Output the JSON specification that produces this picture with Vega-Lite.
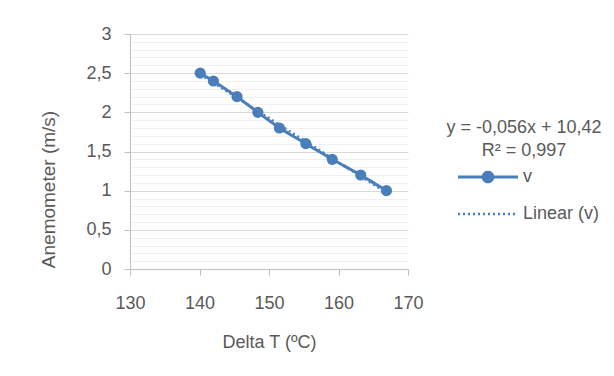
{
  "$schema": "https://vega.github.io/schema/vega-lite/v6.json",
  "width": 278,
  "height": 235,
  "autosize": {"type": "none"},
  "padding": {"left": 130, "top": 34, "right": 206, "bottom": 107},
  "background": "white",
  "config": {
    "view": {"stroke": null},
    "font": "Liberation Sans",
    "axis": {"labelColor": "#595959", "titleColor": "#595959", "labelFont": "Liberation Sans", "titleFont": "Liberation Sans", "titleFontWeight": "normal"},
    "legend": {"labelColor": "#595959", "titleColor": "#595959", "labelFont": "Liberation Sans", "titleFont": "Liberation Sans"}
  },
  "data": {
    "values": [
      {"dt": 140.1, "v": 2.5},
      {"dt": 142.0, "v": 2.4},
      {"dt": 145.4, "v": 2.2},
      {"dt": 148.4, "v": 2.0},
      {"dt": 151.5, "v": 1.8},
      {"dt": 155.3, "v": 1.6},
      {"dt": 159.1, "v": 1.4},
      {"dt": 163.2, "v": 1.2},
      {"dt": 166.9, "v": 1.0}
    ]
  },
  "resolve": {"axis": {"y": "independent"}},
  "layer": [
    {
      "mark": {"type": "line", "color": "#4A7EBB", "strokeWidth": 3, "point": {"filled": true, "size": 125, "color": "#4A7EBB", "opacity": 1}},
      "encoding": {
        "x": {
          "field": "dt", "type": "quantitative",
          "scale": {"domain": [130, 170], "nice": false, "zero": false},
          "axis": {
            "values": [130, 140, 150, 160, 170],
            "grid": false,
            "title": "Delta T (ºC)",
            "titleFontSize": 18,
            "titleY": 73,
            "titleBaseline": "middle",
            "labelFontSize": 18,
            "labelPadding": 19,
            "tickSize": 6,
            "tickColor": "#bfbfbf",
            "domainColor": "#bfbfbf",
            "labelFlush": false,
            "labelOverlap": false
          }
        },
        "y": {
          "field": "v", "type": "quantitative",
          "scale": {"domain": [0, 3], "nice": false},
          "axis": {
            "values": [0, 0.5, 1, 1.5, 2, 2.5, 3],
            "labelExpr": "replace(toString(datum.value), '.', ',')",
            "grid": true,
            "gridColor": "#d9d9d9",
            "gridWidth": 1,
            "title": "Anemometer (m/s)",
            "titleFontSize": 19,
            "titleX": -82,
            "titleY": 155,
            "titleBaseline": "middle",
            "titleAngle": -90,
            "labelFontSize": 18,
            "labelPadding": 13,
            "tickSize": 6,
            "tickColor": "#bfbfbf",
            "domainColor": "#bfbfbf",
            "labelFlush": false,
            "labelOverlap": false
          }
        },
        "strokeDash": {
          "datum": "v",
          "scale": {"domain": ["v", "Linear (v)"], "range": [[1, 0], [2, 3]]},
          "legend": {
            "orient": "none",
            "legendX": 316,
            "legendY": 85,
            "padding": 0,
            "title": ["y = -0,056x + 10,42", "R² = 0,997"],
            "titleFontSize": 18,
            "titleFontWeight": "normal",
            "titleLineHeight": 23,
            "titleAnchor": "middle",
            "titleAlign": "center",
            "titleBaseline": "top",
            "titlePadding": 9,
            "labelFontSize": 18,
            "labelOffset": 28,
            "symbolOffset": 31,
            "symbolSize": 3600,
            "clipHeight": 16,
            "rowPadding": 19,
            "symbolStrokeColor": "#4A7EBB",
            "symbolStrokeWidth": 3,
            "encode": {
              "labels": {"update": {"dx": {"value": -2}}},
              "symbols": {
                "update": {
                  "shape": {"signal": "datum.value === 'v' ? 'M-1,0H1M0.16,0A0.16,0.16,0,1,1,-0.16,0A0.16,0.16,0,1,1,0.16,0Z' : 'stroke'"},
                  "fill": {"signal": "datum.value === 'v' ? '#4A7EBB' : 'transparent'"},
                  "stroke": {"value": "#4A7EBB"},
                  "strokeWidth": {"signal": "datum.value === 'v' ? 3 : 2.5"},
                  "opacity": {"value": 1}
                }
              }
            }
          }
        }
      }
    },
    {
      "transform": [{"regression": "v", "on": "dt"}],
      "mark": {"type": "line", "color": "#4F81BD", "strokeWidth": 2.5},
      "encoding": {
        "x": {"field": "dt", "type": "quantitative"},
        "y": {
          "field": "v", "type": "quantitative",
          "axis": {
            "values": [0.1, 0.2, 0.3, 0.4, 0.6, 0.7, 0.8, 0.9, 1.1, 1.2, 1.3, 1.4, 1.6, 1.7, 1.8, 1.9, 2.1, 2.2, 2.3, 2.4, 2.6, 2.7, 2.8, 2.9],
            "grid": true,
            "gridColor": "#f0f0f0",
            "labels": false,
            "ticks": false,
            "domain": false,
            "title": null
          }
        },
        "strokeDash": {"datum": "Linear (v)"}
      }
    }
  ]
}
